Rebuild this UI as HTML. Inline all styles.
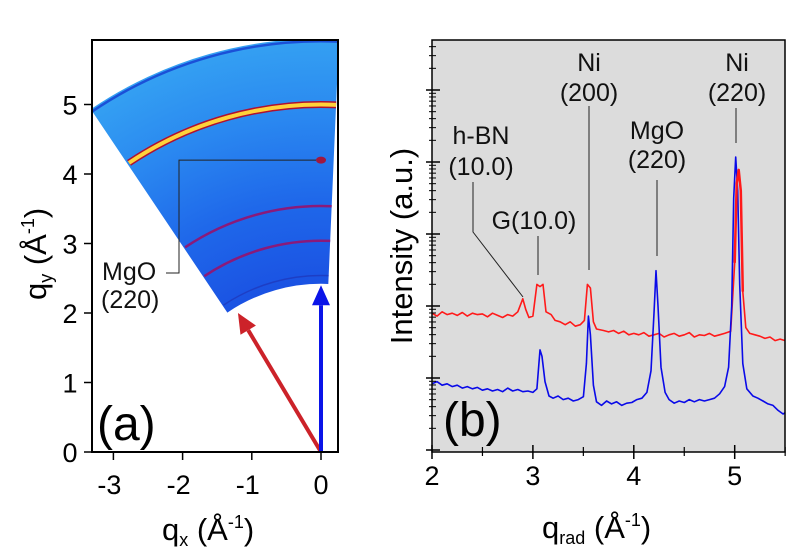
<!DOCTYPE html>
<html><head><meta charset="utf-8"><style>
html,body{margin:0;padding:0;background:#fff;}
svg{display:block;font-family:"Liberation Sans",Arial,sans-serif;}
</style></head><body>
<svg width="787" height="557" viewBox="0 0 787 557">
<defs>
<radialGradient id="wedgeGrad" gradientUnits="userSpaceOnUse" cx="321" cy="452" r="420">
<stop offset="0.38" stop-color="#1a50e2"/>
<stop offset="0.6" stop-color="#1f68ea"/>
<stop offset="0.8" stop-color="#2a88f0"/>
<stop offset="0.98" stop-color="#34a0f2"/>
</radialGradient>
<clipPath id="clipA"><rect x="92" y="40" width="246" height="412"/></clipPath>
<clipPath id="clipB"><rect x="432" y="40" width="353" height="412"/></clipPath>
</defs>
<g id="panelA"></g>
<g id="panelB"></g>
</svg>
<script>
// ---------- Panel A data ----------
const ringRadii = [5.0, 3.54, 3.04, 2.54];
const ringWidths = [4, 2.5, 2.5, 1.5];
const ringColors = ["#ffd23a", "#8a1a7a", "#8a1a7a", "#2030b0"];
const wedgeInner = 2.42, wedgeOuter = 5.95;
const wedgeAngleLeft = -34, wedgeAngleRight = 2.5;
const spotQ = [0.0, 4.2];
const redArrowEnd = [-1.2, 2.0];
const blueArrowEnd = [0.0, 2.4];
const aXTicks = [-3, -2, -1, 0];
const aYTicks = [0, 1, 2, 3, 4, 5];

// ---------- Panel B data ----------
const redQ = [2.00,2.05,2.10,2.15,2.20,2.25,2.30,2.35,2.40,2.45,2.50,2.55,2.60,2.65,2.70,2.75,2.80,2.85,2.90,2.93,2.96,3.00,3.04,3.07,3.10,3.13,3.18,3.22,3.27,3.32,3.37,3.42,3.47,3.51,3.54,3.57,3.60,3.63,3.70,3.75,3.80,3.85,3.90,3.95,4.00,4.05,4.10,4.15,4.20,4.25,4.30,4.35,4.40,4.45,4.50,4.55,4.60,4.65,4.70,4.75,4.80,4.85,4.90,4.96,5.00,5.02,5.04,5.06,5.08,5.11,5.15,5.20,5.25,5.30,5.35,5.40,5.45,5.50];
const redLogI = [.90,.86,.92,.88,.90,.87,.91,.86,.90,.88,.89,.85,.90,.87,.84,.88,.86,.92,1.10,.95,.84,.86,1.30,1.27,1.30,.92,.88,.80,.78,.74,.78,.72,.74,.80,1.30,1.25,.78,.68,.66,.64,.66,.62,.65,.60,.62,.60,.63,.58,.60,.62,.57,.60,.62,.58,.60,.63,.57,.60,.59,.62,.58,.60,.62,.65,1.6,2.7,2.89,2.6,1.2,.70,.62,.60,.58,.55,.57,.52,.54,.52];
const blueQ = [2.00,2.05,2.10,2.15,2.20,2.25,2.30,2.35,2.40,2.45,2.50,2.55,2.60,2.65,2.70,2.75,2.80,2.85,2.90,2.95,3.00,3.04,3.07,3.09,3.12,3.16,3.20,3.25,3.30,3.35,3.40,3.45,3.50,3.53,3.55,3.57,3.60,3.63,3.68,3.73,3.78,3.83,3.88,3.93,3.98,4.03,4.08,4.13,4.17,4.20,4.22,4.24,4.27,4.31,4.35,4.40,4.45,4.50,4.55,4.60,4.65,4.70,4.75,4.80,4.85,4.90,4.94,4.97,4.99,5.01,5.03,5.05,5.08,5.12,5.18,5.23,5.28,5.33,5.38,5.43,5.48,5.50];
const blueLogI = [-.08,-.05,-.10,-.08,-.12,-.10,-.14,-.12,-.15,-.13,-.17,-.15,-.18,-.16,-.19,-.14,-.18,-.16,-.19,-.18,-.20,-.15,.39,.30,-.05,-.25,-.28,-.25,-.30,-.28,-.32,-.30,-.26,.2,.86,.6,-.10,-.33,-.38,-.32,-.36,-.33,-.38,-.35,-.34,-.30,-.28,-.20,.10,.9,1.49,1.0,.15,-.20,-.30,-.35,-.32,-.34,-.30,-.33,-.30,-.32,-.30,-.28,-.22,-.12,.15,1.0,2.5,3.07,2.6,1.3,.2,-.15,-.25,-.28,-.32,-.36,-.38,-.45,-.50,-.48];
const bXTicks = [2, 3, 4, 5];

const NS = "http://www.w3.org/2000/svg";
function mk(tag, attrs, parent, text) {
  const e = document.createElementNS(NS, tag);
  for (const k in attrs) e.setAttribute(k, attrs[k]);
  if (text !== undefined) e.textContent = text;
  parent.appendChild(e);
  return e;
}

// ---------- Panel A ----------
const A = document.getElementById('panelA');
const ax = q => 321 + q * 69.2;
const ay = q => 452 - q * 69.5;
const sx = 69.2, sy = 69.5;
function polar(r, deg) { const t = deg * Math.PI / 180; return [ax(r * Math.sin(t)), ay(r * Math.cos(t))]; }

const gA = mk('g', {'clip-path': 'url(#clipA)'}, A);
{
  const p1 = polar(wedgeOuter, wedgeAngleLeft), p2 = polar(wedgeOuter, wedgeAngleRight);
  const p3 = polar(wedgeInner, wedgeAngleRight), p4 = polar(wedgeInner, wedgeAngleLeft);
  const d = `M${p1} A${wedgeOuter*sx},${wedgeOuter*sy} 0 0 1 ${p2} L${p3} A${wedgeInner*sx},${wedgeInner*sy} 0 0 0 ${p4} Z`;
  const w = mk('path', {d: d, fill: 'url(#wedgeGrad)'}, gA);
  
  
  const a1 = polar(wedgeOuter - 0.04, wedgeAngleLeft), a2 = polar(wedgeOuter - 0.04, wedgeAngleRight);
  mk('path', {d: `M${a1} A${(wedgeOuter-0.04)*sx},${(wedgeOuter-0.04)*sy} 0 0 1 ${a2}`, fill: 'none', stroke: '#1a50d8', 'stroke-width': 2.5}, gA);
}
ringRadii.forEach((r, i) => {
  const a1 = polar(r, wedgeAngleLeft + 0.3), a2 = polar(r, wedgeAngleRight);
  const d = `M${a1} A${r*sx},${r*sy} 0 0 1 ${a2}`;
  if (i === 0) {
    mk('path', {d: d, fill: 'none', stroke: '#b01030', 'stroke-width': 7}, gA);
  }
  const el = mk('path', {d: d, fill: 'none', stroke: ringColors[i], 'stroke-width': ringWidths[i], opacity: i === 3 ? 0.6 : 1}, gA);
  
  
});
{
  const s = mk('ellipse', {cx: ax(spotQ[0]), cy: ay(spotQ[1]), rx: 5, ry: 3.5, fill: '#a01840'}, gA);
  
  
}
function arrow(end, color, name) {
  const x0 = ax(0), y0 = ay(0), x1 = ax(end[0]), y1 = ay(end[1]);
  const ang = Math.atan2(y1 - y0, x1 - x0);
  const L = 20, W = 9;
  const bx = x1 - L * Math.cos(ang), by = y1 - L * Math.sin(ang);
  const g = mk('g', {}, A);
  
  
  mk('line', {x1: x0, y1: y0, x2: bx, y2: by, stroke: color, 'stroke-width': 4}, g);
  const px = -Math.sin(ang), py = Math.cos(ang);
  mk('polygon', {points: `${x1},${y1} ${bx + px*W},${by + py*W} ${bx - px*W},${by - py*W}`, fill: color}, g);
}
arrow(redArrowEnd, '#cc2229', 'red-arrow');
arrow(blueArrowEnd, '#0a14e8', 'blue-arrow');
mk('polyline', {points: `${ax(spotQ[0]) - 5},${ay(spotQ[1])} 179,${ay(spotQ[1])} 179,273 166,273`, fill: 'none', stroke: '#222', 'stroke-width': 1}, A);
{
  const t = mk('text', {x: 102, y: 280, 'font-size': 25, fill: '#111'}, A, 'MgO');
   
  const t2 = mk('text', {x: 101, y: 308, 'font-size': 25, fill: '#111'}, A, '(220)');
   
}
{
  const f = mk('rect', {x: 92, y: 40, width: 246, height: 412, fill: 'none', stroke: '#000', 'stroke-width': 2}, A);
   
}
aXTicks.forEach(v => {
  mk('line', {x1: ax(v), y1: 452, x2: ax(v), y2: 460, stroke: '#000', 'stroke-width': 1.5}, A);
  const t = mk('text', {x: ax(v) - (v < 0 ? 4 : 0), y: 494, 'font-size': 27, 'text-anchor': 'middle', fill: '#000'}, A, v === 0 ? '0' : '-' + Math.abs(v));
   
});
aYTicks.forEach(v => {
  mk('line', {x1: 84, y1: ay(v), x2: 92, y2: ay(v), stroke: '#000', 'stroke-width': 1.5}, A);
  const t = mk('text', {x: 70, y: ay(v) + 10, 'font-size': 27, 'text-anchor': 'middle', fill: '#000'}, A, String(v));
   
});
{
  const t = mk('text', {x: 97, y: 440, 'font-size': 48, fill: '#000'}, A, '(a)');
   
  const xl = mk('text', {x: 162, y: 540, 'font-size': 31, fill: '#000'}, A);
   
  xl.innerHTML = 'q<tspan font-size="18" dy="6">x</tspan><tspan dy="-6"> (Å</tspan><tspan font-size="18" dy="-12">-1</tspan><tspan dy="12">)</tspan>';
  const yl = mk('text', {transform: 'translate(46,300) rotate(-90)', 'font-size': 31, fill: '#000'}, A);
   
  yl.innerHTML = 'q<tspan font-size="18" dy="6">y</tspan><tspan dy="-6"> (Å</tspan><tspan font-size="18" dy="-12">-1</tspan><tspan dy="12">)</tspan>';
}

// ---------- Panel B ----------
const B = document.getElementById('panelB');
const bx = q => 432 + (q - 2) * 100.9;
const by = v => 378 - v * 72;
{
  const bg = mk('rect', {x: 432, y: 40, width: 353, height: 412, fill: '#dcdcdc'}, B);
   
}
const gB = mk('g', {'clip-path': 'url(#clipB)'}, B);
function series(qs, vs, color, name, w) {
  const pts = qs.map((q, i) => `${bx(q).toFixed(1)},${by(vs[i]).toFixed(1)}`).join(' ');
  const p = mk('polyline', {points: pts, fill: 'none', stroke: color, 'stroke-width': w || 1.6, 'stroke-linejoin': 'round'}, gB);
  
  
}
series(redQ, redLogI, '#ff1a1a', 'red-series');
series(blueQ, blueLogI, '#0a0ae8', 'blue-series');
{
  const qs = [], vs = [];
  redQ.forEach((q, i) => { if (q >= 4.98 && q <= 5.1) { qs.push(q); vs.push(redLogI[i]); } });
  series(qs, vs, '#ff1a1a', 'red-ni220-peak', 2.5);
}
mk('rect', {x: 432, y: 40, width: 353, height: 412, fill: 'none', stroke: '#000', 'stroke-width': 1.5}, B);
bXTicks.forEach(v => {
  mk('line', {x1: bx(v), y1: 445, x2: bx(v), y2: 459, stroke: '#000', 'stroke-width': 1.5}, B);
  const t = mk('text', {x: bx(v), y: 485, 'font-size': 27, 'text-anchor': 'middle', fill: '#000'}, B, String(v));
   
});
[2.5, 3.5, 4.5, 5.5].forEach(v => mk('line', {x1: bx(v), y1: 447, x2: bx(v), y2: 456, stroke: '#000', 'stroke-width': 1.2}, B));
for (let d = -2; d <= 5; d++) {
  for (let m = 1; m <= 9; m++) {
    const v = d + Math.log10(m);
    const y = by(v);
    if (y < 40 || y > 452) continue;
    const major = m === 1;
    mk('line', {x1: major ? 426 : 429, y1: y, x2: major ? 440 : 436, y2: y, stroke: '#000', 'stroke-width': major ? 1.5 : 1}, B);
  }
}
function lbl(lines, cx, ys, name) {
  lines.forEach((s, i) => {
    const t = mk('text', {x: cx, y: ys[i], 'font-size': 25, 'text-anchor': 'middle', fill: '#111'}, B, s);
    
    
  });
}
lbl(['h-BN', '(10.0)'], 481, [144, 175], 'hbn-label');
lbl(['G(10.0)'], 534, [229], 'graphene-label');
lbl(['Ni', '(200)'], 589, [71, 101], 'ni200-label');
lbl(['MgO', '(220)'], 657, [139, 168], 'mgo220-label');
lbl(['Ni', '(220)'], 737, [71, 101], 'ni220-label');
const leaders = [
  '473,182 473,232 523,297',
  '538,236 538,275',
  '589,106 589,270',
  '657,180 657,256',
  '736,108 736,143'
];
leaders.forEach(pts => {
  const l = mk('polyline', {points: pts, fill: 'none', stroke: '#222', 'stroke-width': 1}, B);
  
  
});
{
  const t = mk('text', {x: 443, y: 436, 'font-size': 48, fill: '#000'}, B, '(b)');
   
  const xl = mk('text', {x: 542, y: 538, 'font-size': 31, fill: '#000'}, B);
   
  xl.innerHTML = 'q<tspan font-size="18" dy="6">rad</tspan><tspan dy="-6"> (Å</tspan><tspan font-size="18" dy="-12">-1</tspan><tspan dy="12">)</tspan>';
  const yl = mk('text', {transform: 'translate(412,246) rotate(-90)', 'font-size': 31, 'text-anchor': 'middle', fill: '#000'}, B, 'Intensity (a.u.)');
   
}
</script>
</body></html>
